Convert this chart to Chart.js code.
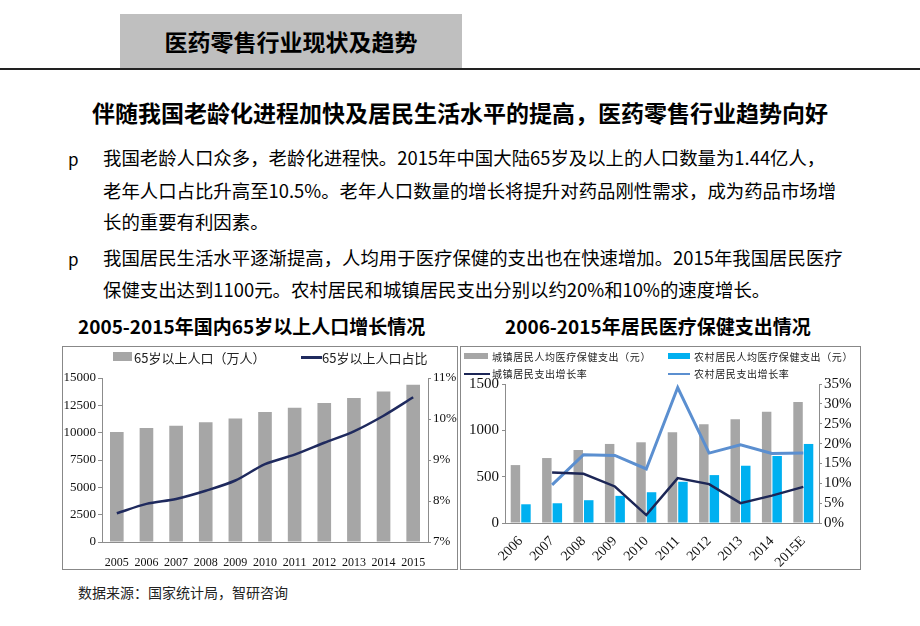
<!DOCTYPE html>
<html>
<head>
<meta charset="utf-8">
<script src="https://cdn.jsdelivr.net/npm/chart.js@4"></script>
<style>
  html, body { margin: 0; padding: 0; background: #fff; }
  body { width: 920px; height: 626px; position: relative; overflow: hidden;
         font-family: "Noto Sans CJK SC", sans-serif; color: #000; }
  .abs { position: absolute; white-space: nowrap; }
  #hdrBox { left: 120px; top: 14px; width: 342px; height: 55px; background: #bfbfbf; }
  #hdrTitle { left: 120px; top: 14px; width: 342px; height: 55px; line-height: 55px;
              text-align: center; font-size: 23px; font-weight: bold; }
  #hdrLine { left: 0; top: 68px; width: 920px; height: 2px; background: #222; }
  #sub { left: 0; width: 920px; top: 95px; text-align: center; font-size: 23px; font-weight: bold; }
  .bul { font-size: 17px; left: 68px; }
  .txt { font-size: 18.4px; left: 103px; }
  .ctitle { font-size: 19px; font-weight: bold; top: 312px; }
  .box { border: 1px solid #888; }
  .leg { font-family: "Noto Sans CJK SC", serif; color: #222; }
  #src { left: 78px; top: 582px; font-size: 14px; color: #222; }
</style>
</head>
<body>
<div id="hdrBox" class="abs"></div>
<div id="hdrTitle" class="abs">医药零售行业现状及趋势</div>
<div id="hdrLine" class="abs"></div>
<div id="sub" class="abs">伴随我国老龄化进程加快及居民生活水平的提高，医药零售行业趋势向好</div>

<div class="abs bul" style="top:146px">p</div>
<div class="abs txt" style="top:144px">我国老龄人口众多，老龄化进程快。2015年中国大陆65岁及以上的人口数量为1.44亿人，</div>
<div class="abs txt" style="top:177px">老年人口占比升高至10.5%。老年人口数量的增长将提升对药品刚性需求，成为药品市场增</div>
<div class="abs txt" style="top:208px">长的重要有利因素。</div>
<div class="abs bul" style="top:246px">p</div>
<div class="abs txt" style="top:244px">我国居民生活水平逐渐提高，人均用于医疗保健的支出也在快速增加。2015年我国居民医疗</div>
<div class="abs txt" style="top:276px">保健支出达到1100元。农村居民和城镇居民支出分别以约20%和10%的速度增长。</div>

<div class="abs ctitle" style="left:78px">2005-2015年国内65岁以上人口增长情况</div>
<div class="abs ctitle" style="left:505px">2006-2015年居民医疗保健支出情况</div>

<div class="abs box" style="left:62px; top:346px; width:394px; height:222px;">
  <canvas id="popChart" width="394" height="222"></canvas>
</div>
<div class="abs box" style="left:460px; top:346px; width:399px; height:222px;">
  <canvas id="medChart" width="399" height="222"></canvas>
</div>

<!-- legends -->
<div class="abs" style="left:113px; top:352px; width:19px; height:9px; background:#a6a6a6;"></div>
<div class="abs leg" style="left:134px; top:348px; font-size:13px;">65岁以上人口（万人）</div>
<div class="abs" style="left:301px; top:356px; width:21px; height:3px; background:#1f2a5e;"></div>
<div class="abs leg" style="left:322px; top:348px; font-size:13px;">65岁以上人口占比</div>

<div class="abs" style="left:464px; top:353px; width:24px; height:6px; background:#a6a6a6;"></div>
<div class="abs leg" style="left:492px; top:349px; font-size:10px; letter-spacing:0.6px;">城镇居民人均医疗保健支出（元）</div>
<div class="abs" style="left:668px; top:353px; width:22px; height:6px; background:#00b0f0;"></div>
<div class="abs leg" style="left:694px; top:349px; font-size:10px; letter-spacing:0.6px;">农村居民人均医疗保健支出（元）</div>
<div class="abs" style="left:464px; top:373px; width:26px; height:2px; background:#1c2656;"></div>
<div class="abs leg" style="left:492px; top:366px; font-size:10px; letter-spacing:0.6px;">城镇居民支出增长率</div>
<div class="abs" style="left:668px; top:373px; width:22px; height:2px; background:#5b8fd0;"></div>
<div class="abs leg" style="left:694px; top:366px; font-size:10px; letter-spacing:0.6px;">农村居民支出增长率</div>

<div id="src" class="abs">数据来源：国家统计局，智研咨询</div>

<script>
// chart 1 data: 65+ population
const popYears = ['2005', '2006', '2007', '2008', '2009', '2010', '2011', '2012', '2013', '2014', '2015'];
const popCount = [10055, 10419, 10636, 10956, 11307, 11894, 12288, 12714, 13161, 13755, 14386];
const popShare = [7.7, 7.93, 8.05, 8.25, 8.5, 8.9, 9.13, 9.42, 9.7, 10.08, 10.53];
const popLeftTicks = [0, 2500, 5000, 7500, 10000, 12500, 15000];
const popRightTicks = [7, 8, 9, 10, 11];

// chart 2 data: medical spending
const medYears = ['2006', '2007', '2008', '2009', '2010', '2011', '2012', '2013', '2014', '2015E'];
const urbanSpend = [625, 701, 788, 853, 871, 979, 1066, 1120, 1200, 1305];
const ruralSpend = [202, 213, 246, 293, 332, 445, 517, 618, 723, 853];
const urbanGrowth = [null, 12.7, 12.4, 9.2, 2.0, 11.3, 9.8, 5.0, 6.9, 9.1];
const ruralGrowth = [null, 9.6, 17.2, 17.0, 13.6, 34.1, 17.6, 19.7, 17.5, 17.6];

const serif = "'Liberation Serif', 'Times New Roman', serif";
const axisGray = '#8c8c8c';

function fixWidth(w) { return function (scale) { scale.width = w; }; }
function fixHeight(h) { return function (scale) { scale.height = h; }; }

new Chart(document.getElementById('popChart'), {
    data: {
        labels: popYears,
        datasets: [{
            type: 'line',
            data: popShare,
            yAxisID: 'y1',
            borderColor: '#1f2a5e',
            borderWidth: 2.5,
            pointRadius: 0,
            tension: 0.3,
            order: 1
        }, {
            type: 'bar',
            data: popCount,
            yAxisID: 'y',
            backgroundColor: '#a6a6a6',
            barPercentage: 0.46,
            categoryPercentage: 1,
            order: 2
        }]
    },
    options: {
        responsive: false,
        animation: false,
        layout: { padding: { top: 31 } },
        plugins: { legend: { display: false }, tooltip: { enabled: false } },
        scales: {
            x: {
                afterFit: fixHeight(27),
                grid: { display: false },
                border: { color: axisGray },
                ticks: { color: '#111', font: { family: serif, size: 12 }, padding: 6, maxRotation: 0 }
            },
            y: {
                position: 'left',
                min: 0, max: 15000,
                afterFit: fixWidth(39),
                afterBuildTicks: function (scale) { scale.ticks = popLeftTicks.map(v => ({ value: v })); },
                grid: { drawOnChartArea: false, tickLength: 4, color: axisGray },
                border: { color: axisGray },
                ticks: { color: '#111', font: { family: serif, size: 13 }, padding: 2, autoSkip: false,
                         callback: v => String(v) }
            },
            y1: {
                position: 'right',
                min: 7, max: 11,
                afterFit: fixWidth(29),
                afterBuildTicks: function (scale) { scale.ticks = popRightTicks.map(v => ({ value: v })); },
                grid: { drawOnChartArea: false, tickLength: 3, color: axisGray },
                border: { color: axisGray },
                ticks: { color: '#111', font: { family: serif, size: 13 }, padding: 2, autoSkip: false,
                         callback: v => v + '%' }
            }
        }
    }
});

new Chart(document.getElementById('medChart'), {
    data: {
        labels: medYears,
        datasets: [{
            type: 'line',
            data: urbanGrowth,
            yAxisID: 'y1',
            borderColor: '#1c2656',
            borderWidth: 2.5,
            pointRadius: 0,
            tension: 0,
            order: 1
        }, {
            type: 'line',
            data: ruralGrowth,
            yAxisID: 'y1',
            borderColor: '#5b8fd0',
            borderWidth: 3,
            pointRadius: 0,
            tension: 0,
            order: 1
        }, {
            type: 'bar',
            data: urbanSpend,
            yAxisID: 'y',
            backgroundColor: '#a6a6a6',
            barPercentage: 0.9,
            categoryPercentage: 0.67,
            order: 2
        }, {
            type: 'bar',
            data: ruralSpend,
            yAxisID: 'y',
            backgroundColor: '#00b0f0',
            barPercentage: 0.9,
            categoryPercentage: 0.67,
            order: 2
        }]
    },
    options: {
        responsive: false,
        animation: false,
        layout: { padding: { top: 37 } },
        plugins: { legend: { display: false }, tooltip: { enabled: false } },
        scales: {
            x: {
                afterFit: fixHeight(46),
                grid: { display: false },
                border: { color: axisGray },
                ticks: { color: '#111', font: { family: serif, size: 14 }, padding: 2, autoSkip: false,
                         minRotation: 45, maxRotation: 45 }
            },
            y: {
                position: 'left',
                min: 0, max: 1500,
                afterFit: fixWidth(44),
                ticks: { stepSize: 500, color: '#111', font: { family: serif, size: 15 }, padding: 3,
                         autoSkip: false, callback: v => String(v) },
                grid: { drawOnChartArea: false, tickLength: 3, color: axisGray },
                border: { color: axisGray }
            },
            y1: {
                position: 'right',
                min: 0, max: 35,
                afterFit: fixWidth(41),
                ticks: { stepSize: 5, color: '#111', font: { family: serif, size: 15 }, padding: 2,
                         autoSkip: false, callback: v => v + '%' },
                grid: { drawOnChartArea: false, tickLength: 3, color: axisGray },
                border: { color: axisGray }
            }
        }
    }
});
</script>
</body>
</html>
